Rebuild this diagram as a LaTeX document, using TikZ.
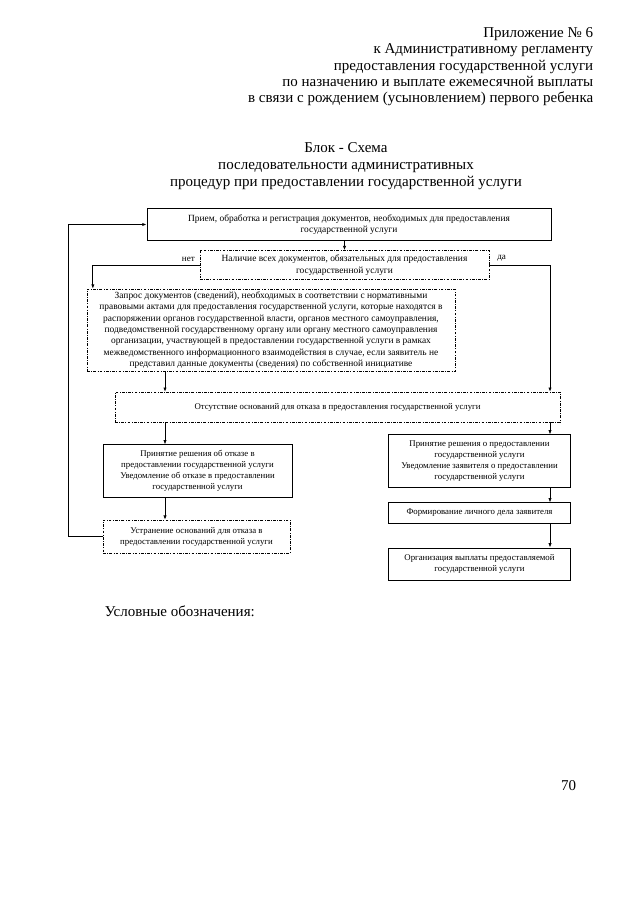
\documentclass[tikz,border=0pt]{standalone}
\usepackage{fontspec}
\setmainfont{Liberation Serif}
\usepackage{tikz}
\usetikzlibrary{arrows.meta, positioning, calc}

\tikzset{
    solidbox/.style={draw, line width=0.9pt, align=center, inner sep=1pt,
                     font=\fontsize{8.2}{10.2}\selectfont},
    dashbox/.style={draw, line width=0.5pt, align=center, inner sep=1pt,
                    dash pattern=on 2.6pt off 1.3pt on 0.7pt off 1.3pt,
                    font=\fontsize{8.2}{10.2}\selectfont},
    bigtext/.style={font=\fontsize{8.8}{10.6}\selectfont},
    link/.style={->, line width=0.7pt},
    small/.style={font=\fontsize{8.5}{10}\selectfont}
}

\begin{document}
\begin{tikzpicture}[x=0.328mm, y=-0.328mm, >={Latex[length=4pt, width=3pt]}]
    \useasboundingbox (0,0) rectangle (640,905);

    % Header
    \node[anchor=north east, align=right, font=\fontsize{14}{15.1}\selectfont]
        (hdr) at (597, 24) {Приложение № 6\\
        к Административному регламенту\\
        предоставления государственной услуги\\
        по назначению и выплате ежемесячной выплаты\\
        в связи с рождением (усыновлением) первого ребенка};

    % Title
    \node[align=center, font=\fontsize{14}{15.9}\selectfont]
        (title) at (346, 166) {Блок - Схема\\
        последовательности административных\\
        процедур при предоставлении государственной услуги};

    % Columns of arrows
    \coordinate (xl) at (165, 0);
    \coordinate (xr) at (550, 0);
    \coordinate (lp) at (68, 0);

    % Boxes
    \node[solidbox, bigtext, minimum width=132.5mm, minimum height=10.8mm]
        (recv) at (349, 224.5) {Прием, обработка и регистрация документов, необходимых для предоставления\\
        государственной услуги};
    \node[dashbox, bigtext, minimum width=94.8mm, minimum height=9.5mm]
        (check) at (344.5, 265) {Наличие всех документов, обязательных для предоставления\\
        государственной услуги};
    \node[dashbox, bigtext, minimum width=120.7mm, minimum height=26.9mm]
        (query) at (271, 330) {Запрос документов (сведений), необходимых в соответствии с нормативными\\
        правовыми актами для предоставления государственной услуги, которые находятся в\\
        распоряжении органов государственной власти, органов местного самоуправления,\\
        подведомственной государственному органу или органу местного самоуправления\\
        организации, участвующей в предоставлении государственной услуги в рамках\\
        межведомственного информационного взаимодействия в случае, если заявитель не\\
        представил данные документы (сведения) по собственной инициативе};
    \node[dashbox, minimum width=146mm, minimum height=9.8mm]
        (nogrounds) at (337.5, 407) {Отсутствие оснований для отказа в предоставления государственной услуги};
    \node[solidbox, minimum width=62mm, minimum height=17.1mm]
        (refuse) at (197.5, 471) {Принятие решения об отказе в\\
        предоставлении государственной услуги\\
        Уведомление об отказе в предоставлении\\
        государственной услуги};
    \node[dashbox, minimum width=61.3mm, minimum height=10.8mm]
        (fix) at (196.5, 536.5) {Устранение оснований для отказа в\\
        предоставлении государственной услуги};
    \node[solidbox, minimum width=59.4mm, minimum height=17.1mm]
        (grant) at (479.5, 461) {Принятие решения о предоставлении\\
        государственной услуги\\
        Уведомление заявителя о предоставлении\\
        государственной услуги};
    \node[solidbox, minimum width=59.4mm, minimum height=6.6mm]
        (file) at (479.5, 513) {Формирование личного дела заявителя};
    \node[solidbox, minimum width=59.4mm, minimum height=10.5mm]
        (pay) at (479.5, 564) {Организация выплаты предоставляемой\\
        государственной услуги};

    % Branch labels
    \node[small, above left=0pt and 1pt of check.west] (no) {нет};
    \node[small, above right=0pt and 4pt of check.east] (yes) {да};

    % Arrows
    \draw[link] (recv.south -| check) -- (check.north);
    \draw[link] (check.west) -| ([xshift=2mm]query.north west);
    \draw[link] (check.east) -| (nogrounds.north -| xr);
    \draw[link] (query.south -| xl) -- (nogrounds.north -| xl);
    \draw[link] (nogrounds.south -| xl) -- (refuse.north -| xl);
    \draw[link] (nogrounds.south -| xr) -- (grant.north -| xr);
    \draw[link] (refuse.south -| xl) -- (fix.north -| xl);
    \draw[link] (grant.south -| xr) -- (file.north -| xr);
    \draw[link] (file.south -| xr) -- (pay.north -| xr);
    \draw[link] (fix.west) -- (fix.west -| lp) |- (recv.west);

    % Legend and page number
    \node[anchor=west, font=\fontsize{14}{16}\selectfont] (legend) at (101, 611) {Условные обозначения:};
    \node[anchor=east, font=\fontsize{14}{16}\selectfont] (page) at (580, 786) {70};
\end{tikzpicture}
\end{document}
